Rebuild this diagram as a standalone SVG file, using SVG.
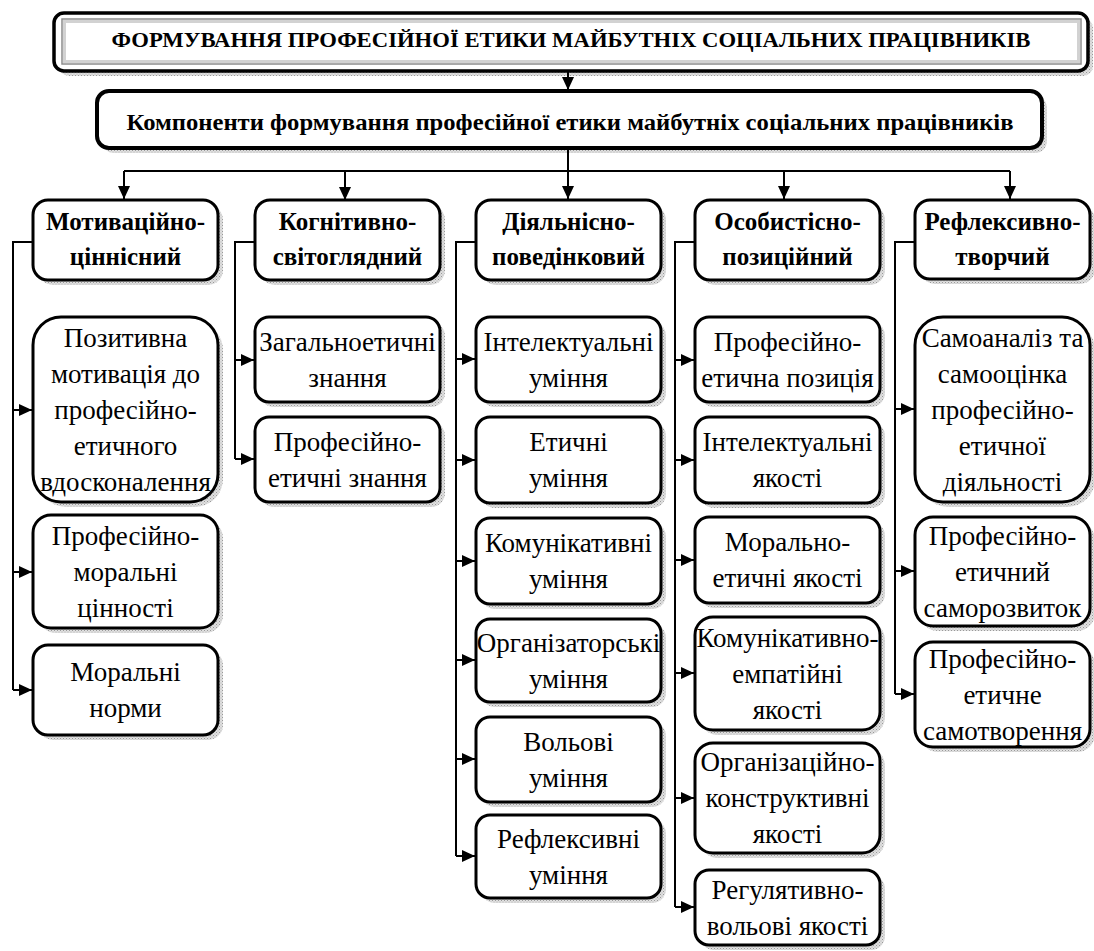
<svg xmlns="http://www.w3.org/2000/svg" width="1094" height="951" viewBox="0 0 1094 951" font-family="Liberation Serif, DejaVu Serif, serif">
<defs>
<pattern id="ht" width="3" height="3" patternUnits="userSpaceOnUse"><rect width="3" height="3" fill="#e0e0e0"/><rect width="1" height="1" fill="#999"/><rect x="1.5" y="1.5" width="1" height="1" fill="#b0b0b0"/></pattern>
<marker id="ah" markerUnits="userSpaceOnUse" markerWidth="13" markerHeight="12" refX="13" refY="6" orient="auto" viewBox="0 0 13 12"><path d="M0,0 L13,6 L0,12 z" fill="#000"/></marker>
</defs>
<style>
.box{fill:#fff;stroke:#000;stroke-width:3}
.sh{fill:url(#ht);stroke:none}
.hd{font-weight:bold;font-size:25px;text-anchor:middle;fill:#000}
.tx{font-size:27px;text-anchor:middle;fill:#000}
.ln{stroke:#000;stroke-width:2;fill:none}
.ar{stroke:#000;stroke-width:2;fill:none;marker-end:url(#ah)}
</style>

<g id="title">
<rect class="sh" x="59" y="18" width="1034" height="58" rx="10"/>
<rect x="54" y="13" width="1034" height="58" rx="10" fill="#fff" stroke="#000" stroke-width="3.5"/>
<rect x="62" y="19" width="1019" height="45" fill="#fff" stroke="#8c8c8c" stroke-width="1.5"/>
<rect x="64.5" y="21.5" width="1014" height="40" fill="none" stroke="#d2d2d2" stroke-width="3"/>
<text class="hd" x="571" y="47" style="font-size:22px" textLength="919" lengthAdjust="spacingAndGlyphs">ФОРМУВАННЯ ПРОФЕСІЙНОЇ ЕТИКИ МАЙБУТНІХ СОЦІАЛЬНИХ ПРАЦІВНИКІВ</text>
</g>

<g id="components">
<rect class="sh" x="102" y="96" width="945" height="57" rx="12"/>
<rect x="97" y="91" width="945" height="57" rx="12" fill="#fff" stroke="#000" stroke-width="4"/>
<text class="hd" x="570" y="130" style="font-size:23px" textLength="887" lengthAdjust="spacingAndGlyphs">Компоненти формування професійної етики майбутніх соціальних працівників</text>
</g>

<g id="connectors">
<path class="ar" d="M568,71 V90"/>
<path class="ln" d="M568,148 V171 M124,171 H1010"/>
<path class="ar" d="M124,171 V199"/>
<path class="ar" d="M345,171 V200"/>
<path class="ar" d="M568,171 V199"/>
<path class="ar" d="M784,171 V199"/>
<path class="ar" d="M1010,171 V199"/>
<path class="ln" d="M33,242 H13 V690"/>
<path class="ar" d="M13,410 H32"/>
<path class="ar" d="M13,572 H32"/>
<path class="ar" d="M13,690 H32"/>
<path class="ln" d="M255,242 H235 V459"/>
<path class="ar" d="M235,360 H254"/>
<path class="ar" d="M235,459 H254"/>
<path class="ln" d="M476,242 H456 V856"/>
<path class="ar" d="M456,359 H475"/>
<path class="ar" d="M456,460 H475"/>
<path class="ar" d="M456,561 H475"/>
<path class="ar" d="M456,660 H475"/>
<path class="ar" d="M456,759 H475"/>
<path class="ar" d="M456,856 H475"/>
<path class="ln" d="M695,242 H675 V907"/>
<path class="ar" d="M675,360 H694"/>
<path class="ar" d="M675,460 H694"/>
<path class="ar" d="M675,560 H694"/>
<path class="ar" d="M675,673 H694"/>
<path class="ar" d="M675,798 H694"/>
<path class="ar" d="M675,907 H694"/>
<path class="ln" d="M915,242 H895 V694"/>
<path class="ar" d="M895,409 H914"/>
<path class="ar" d="M895,571 H914"/>
<path class="ar" d="M895,694 H914"/>
</g>

<!-- Column 1 -->
<g id="h1"><rect class="sh" x="38" y="205" width="185" height="80" rx="15"/><rect class="box" x="33" y="200" width="185" height="80" rx="15"/>
<text class="hd" x="125.5" y="230">Мотиваційно-</text><text class="hd" x="125.5" y="265">ціннісний</text></g>
<g id="c1a"><rect class="sh" x="38" y="322" width="185" height="185" rx="28"/><rect class="box" x="33" y="317" width="185" height="185" rx="28"/>
<text class="tx" x="125.5" y="346.5">Позитивна</text><text class="tx" x="125.5" y="382.5">мотивація до</text><text class="tx" x="125.5" y="418.5">професійно-</text><text class="tx" x="125.5" y="454.5">етичного</text><text class="tx" x="125.5" y="490.5">вдосконалення</text></g>
<g id="c1b"><rect class="sh" x="38" y="520" width="185" height="113" rx="18"/><rect class="box" x="33" y="515" width="185" height="113" rx="18"/>
<text class="tx" x="125.5" y="544.5">Професійно-</text><text class="tx" x="125.5" y="580.5">моральні</text><text class="tx" x="125.5" y="616.5">цінності</text></g>
<g id="c1c"><rect class="sh" x="38" y="650" width="185" height="90" rx="15"/><rect class="box" x="33" y="645" width="185" height="90" rx="15"/>
<text class="tx" x="125.5" y="681">Моральні</text><text class="tx" x="125.5" y="717">норми</text></g>

<!-- Column 2 -->
<g id="h2"><rect class="sh" x="260" y="205" width="185" height="80" rx="15"/><rect class="box" x="255" y="200" width="185" height="80" rx="15"/>
<text class="hd" x="347.5" y="230">Когнітивно-</text><text class="hd" x="347.5" y="265">світоглядний</text></g>
<g id="c2a"><rect class="sh" x="260" y="322" width="185" height="85" rx="14"/><rect class="box" x="255" y="317" width="185" height="85" rx="14"/>
<text class="tx" x="347.5" y="350.5">Загальноетичні</text><text class="tx" x="347.5" y="386.5">знання</text></g>
<g id="c2b"><rect class="sh" x="260" y="422" width="185" height="85" rx="14"/><rect class="box" x="255" y="417" width="185" height="85" rx="14"/>
<text class="tx" x="347.5" y="450.5">Професійно-</text><text class="tx" x="347.5" y="486.5">етичні знання</text></g>

<!-- Column 3 -->
<g id="h3"><rect class="sh" x="481" y="205" width="185" height="80" rx="15"/><rect class="box" x="476" y="200" width="185" height="80" rx="15"/>
<text class="hd" x="568.5" y="230">Діяльнісно-</text><text class="hd" x="568.5" y="265">поведінковий</text></g>
<g id="c3a"><rect class="sh" x="481" y="322" width="185" height="85" rx="14"/><rect class="box" x="476" y="317" width="185" height="85" rx="14"/>
<text class="tx" x="568.5" y="350.5">Інтелектуальні</text><text class="tx" x="568.5" y="386.5">уміння</text></g>
<g id="c3b"><rect class="sh" x="481" y="422" width="185" height="86" rx="14"/><rect class="box" x="476" y="417" width="185" height="86" rx="14"/>
<text class="tx" x="568.5" y="451">Етичні</text><text class="tx" x="568.5" y="487">уміння</text></g>
<g id="c3c"><rect class="sh" x="481" y="523" width="185" height="86" rx="14"/><rect class="box" x="476" y="518" width="185" height="86" rx="14"/>
<text class="tx" x="568.5" y="552">Комунікативні</text><text class="tx" x="568.5" y="588">уміння</text></g>
<g id="c3d"><rect class="sh" x="481" y="624" width="185" height="83" rx="14"/><rect class="box" x="476" y="619" width="185" height="83" rx="14"/>
<text class="tx" x="568.5" y="651.5">Організаторські</text><text class="tx" x="568.5" y="687.5">уміння</text></g>
<g id="c3e"><rect class="sh" x="481" y="722" width="185" height="85" rx="14"/><rect class="box" x="476" y="717" width="185" height="85" rx="14"/>
<text class="tx" x="568.5" y="750.5">Вольові</text><text class="tx" x="568.5" y="786.5">уміння</text></g>
<g id="c3f"><rect class="sh" x="481" y="820" width="185" height="83" rx="14"/><rect class="box" x="476" y="815" width="185" height="83" rx="14"/>
<text class="tx" x="568.5" y="847.5">Рефлексивні</text><text class="tx" x="568.5" y="883.5">уміння</text></g>

<!-- Column 4 -->
<g id="h4"><rect class="sh" x="700" y="205" width="185" height="80" rx="15"/><rect class="box" x="695" y="200" width="185" height="80" rx="15"/>
<text class="hd" x="787.5" y="230">Особистісно-</text><text class="hd" x="787.5" y="265">позиційний</text></g>
<g id="c4a"><rect class="sh" x="700" y="322" width="185" height="85" rx="14"/><rect class="box" x="695" y="317" width="185" height="85" rx="14"/>
<text class="tx" x="787.5" y="350.5">Професійно-</text><text class="tx" x="787.5" y="386.5">етична позиція</text></g>
<g id="c4b"><rect class="sh" x="700" y="422" width="185" height="86" rx="14"/><rect class="box" x="695" y="417" width="185" height="86" rx="14"/>
<text class="tx" x="787.5" y="451">Інтелектуальні</text><text class="tx" x="787.5" y="487">якості</text></g>
<g id="c4c"><rect class="sh" x="700" y="522" width="185" height="86" rx="14"/><rect class="box" x="695" y="517" width="185" height="86" rx="14"/>
<text class="tx" x="787.5" y="551">Морально-</text><text class="tx" x="787.5" y="587">етичні якості</text></g>
<g id="c4d"><rect class="sh" x="700" y="622" width="185" height="113" rx="18"/><rect class="box" x="695" y="617" width="185" height="113" rx="18"/>
<text class="tx" x="787.5" y="646.5">Комунікативно-</text><text class="tx" x="787.5" y="682.5">емпатійні</text><text class="tx" x="787.5" y="718.5">якості</text></g>
<g id="c4e"><rect class="sh" x="700" y="748" width="185" height="110" rx="18"/><rect class="box" x="695" y="743" width="185" height="110" rx="18"/>
<text class="tx" x="787.5" y="771">Організаційно-</text><text class="tx" x="787.5" y="807">конструктивні</text><text class="tx" x="787.5" y="843">якості</text></g>
<g id="c4f"><rect class="sh" x="700" y="875" width="185" height="75" rx="14"/><rect class="box" x="695" y="870" width="185" height="75" rx="14"/>
<text class="tx" x="787.5" y="898.5">Регулятивно-</text><text class="tx" x="787.5" y="934.5">вольові якості</text></g>

<!-- Column 5 -->
<g id="h5"><rect class="sh" x="920" y="205" width="175" height="79" rx="15"/><rect class="box" x="915" y="200" width="175" height="79" rx="15"/>
<text class="hd" x="1002.5" y="230">Рефлексивно-</text><text class="hd" x="1002.5" y="265">творчий</text></g>
<g id="c5a"><rect class="sh" x="920" y="322" width="175" height="185" rx="28"/><rect class="box" x="915" y="317" width="175" height="185" rx="28"/>
<text class="tx" x="1002.5" y="346.5">Самоаналіз та</text><text class="tx" x="1002.5" y="382.5">самооцінка</text><text class="tx" x="1002.5" y="418.5">професійно-</text><text class="tx" x="1002.5" y="454.5">етичної</text><text class="tx" x="1002.5" y="490.5">діяльності</text></g>
<g id="c5b"><rect class="sh" x="920" y="522" width="175" height="109" rx="18"/><rect class="box" x="915" y="517" width="175" height="109" rx="18"/>
<text class="tx" x="1002.5" y="544.5">Професійно-</text><text class="tx" x="1002.5" y="580.5">етичний</text><text class="tx" x="1002.5" y="616.5">саморозвиток</text></g>
<g id="c5c"><rect class="sh" x="920" y="647" width="175" height="105" rx="18"/><rect class="box" x="915" y="642" width="175" height="105" rx="18"/>
<text class="tx" x="1002.5" y="667.5">Професійно-</text><text class="tx" x="1002.5" y="703.5">етичне</text><text class="tx" x="1002.5" y="739.5">самотворення</text></g>
</svg>
